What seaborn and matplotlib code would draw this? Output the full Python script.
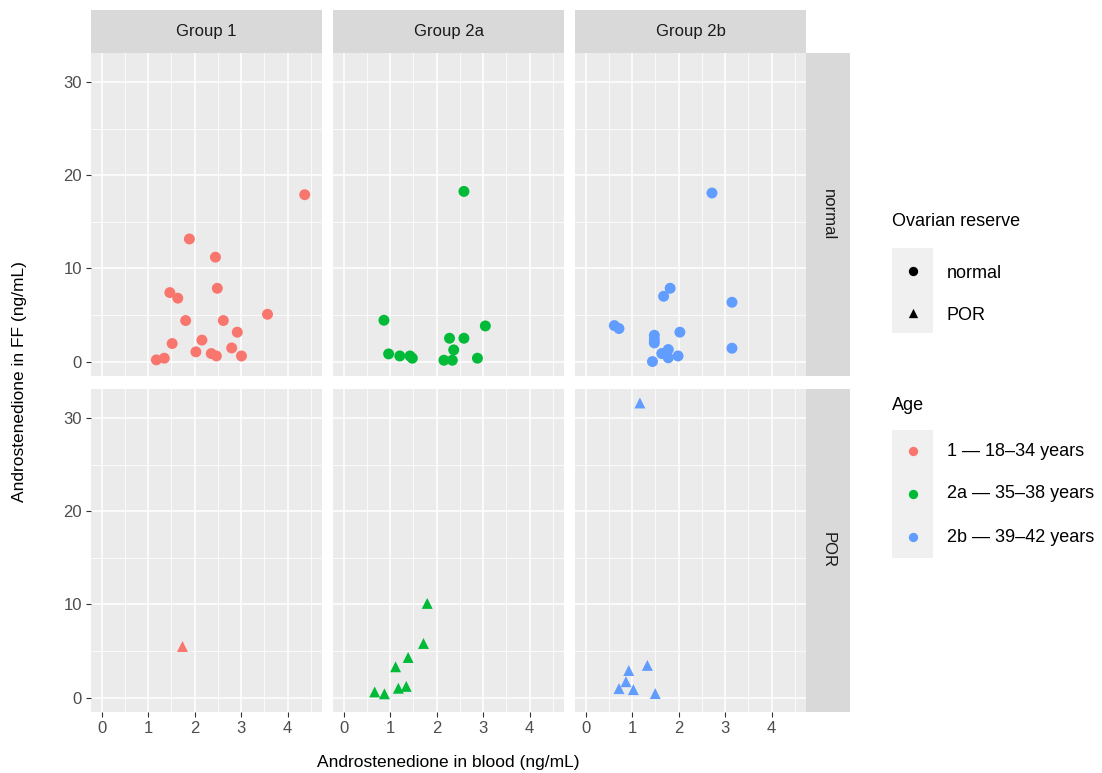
import matplotlib
matplotlib.use("Agg")
import matplotlib.pyplot as plt
from matplotlib.patches import Rectangle
from matplotlib.ticker import MultipleLocator
import numpy as np
import pandas as pd
import seaborn as sns

groups = ["Group 1", "Group 2a", "Group 2b"]
reserves = ["normal", "POR"]
age_labels = ["1 — 18–34 years", "2a — 35–38 years", "2b — 39–42 years"]
palette = ["#F8766D", "#00BA38", "#619CFF"]

# androstenedione blood (x) / follicular fluid (y), per panel
g1_normal_x = [4.37, 1.89, 2.45, 2.49, 1.47, 1.64, 3.57, 1.81, 2.62, 2.92, 2.16, 1.52, 2.80, 2.03, 2.36, 2.47, 3.01, 1.18, 1.35]
g1_normal_y = [17.9, 13.15, 11.2, 7.86, 7.4, 6.8, 5.07, 4.4, 4.4, 3.15, 2.3, 1.93, 1.46, 1.04, 0.86, 0.6, 0.6, 0.18, 0.36]
g2a_normal_x = [2.59, 0.87, 3.05, 2.28, 2.59, 2.37, 0.97, 1.21, 1.43, 1.48, 2.16, 2.34, 2.88]
g2a_normal_y = [18.25, 4.43, 3.82, 2.5, 2.5, 1.25, 0.82, 0.6, 0.6, 0.36, 0.14, 0.14, 0.36]
g2b_normal_x = [2.72, 1.82, 1.68, 3.15, 0.62, 0.72, 2.03, 1.48, 1.48, 1.48, 3.15, 1.78, 1.64, 1.99, 1.78, 1.44]
g2b_normal_y = [18.08, 7.86, 7.0, 6.36, 3.86, 3.54, 3.15, 2.82, 2.36, 2.0, 1.43, 1.29, 0.86, 0.6, 0.4, 0.0]
g1_por_x = [1.74]
g1_por_y = [5.5]
g2a_por_x = [1.80, 1.72, 1.39, 1.12, 1.35, 1.18, 0.67, 0.88]
g2a_por_y = [10.1, 5.8, 4.3, 3.3, 1.2, 1.0, 0.6, 0.4]
g2b_por_x = [1.17, 1.33, 0.93, 0.87, 0.72, 1.03, 1.50]
g2b_por_y = [31.6, 3.45, 2.9, 1.7, 0.96, 0.85, 0.43]

panels = {
    ("Group 1", "normal"): (g1_normal_x, g1_normal_y),
    ("Group 2a", "normal"): (g2a_normal_x, g2a_normal_y),
    ("Group 2b", "normal"): (g2b_normal_x, g2b_normal_y),
    ("Group 1", "POR"): (g1_por_x, g1_por_y),
    ("Group 2a", "POR"): (g2a_por_x, g2a_por_y),
    ("Group 2b", "POR"): (g2b_por_x, g2b_por_y),
}

rows = []
for (grp, res), (xs, ys) in panels.items():
    age = age_labels[groups.index(grp)]
    for x, y in zip(xs, ys):
        rows.append({"group": grp, "reserve": res, "age": age, "blood": x, "ff": y})
df = pd.DataFrame(rows)

plt.rcParams["font.family"] = ["Liberation Sans", "DejaVu Sans"]

W, H = 1102, 773
fig = plt.figure(figsize=(W / 100, H / 100), dpi=100)


def box(l, t, w, h):
    return [l / W, 1 - (t + h) / H, w / W, h / H]


col_left = [91, 333, 575]
pan_w = 231
row_top = [53, 389]
pan_h = 323
xlim = (-10.5 / 46.5, (pan_w - 10.5) / 46.5)
ylim = (-1.55, 33.1)

for r, res in enumerate(reserves):
    for c, grp in enumerate(groups):
        ax = fig.add_axes(box(col_left[c], row_top[r], pan_w, pan_h))
        ax.set_facecolor("#EBEBEB")
        sub = df[(df["group"] == grp) & (df["reserve"] == res)]
        sns.scatterplot(data=sub, x="blood", y="ff", hue="age", hue_order=age_labels,
                        palette=palette, style="reserve",
                        markers={"normal": "o", "POR": "^"},
                        s=62, linewidth=0, legend=False, ax=ax, zorder=3)
        ax.set_xlim(*xlim)
        ax.set_ylim(*ylim)
        ax.xaxis.set_major_locator(MultipleLocator(1))
        ax.xaxis.set_minor_locator(MultipleLocator(0.5))
        ax.yaxis.set_major_locator(MultipleLocator(10))
        ax.yaxis.set_minor_locator(MultipleLocator(5))
        ax.grid(which="major", color="white", linewidth=1.1)
        ax.grid(which="minor", color="white", linewidth=0.55)
        ax.set_axisbelow(True)
        for s in ax.spines.values():
            s.set_visible(False)
        ax.tick_params(which="major", length=3.5, width=0.8, color="#333333",
                       labelcolor="#4D4D4D", labelsize=12, pad=3)
        ax.tick_params(which="minor", length=0)
        ax.set_xlabel("")
        ax.set_ylabel("")
        if c != 0:
            ax.tick_params(axis="y", which="both", left=False, labelleft=False)
        if r != 1:
            ax.tick_params(axis="x", which="both", bottom=False, labelbottom=False)

# strips
for c, grp in enumerate(groups):
    sa = fig.add_axes(box(col_left[c], 10, pan_w, 43))
    sa.set_facecolor("#D9D9D9")
    sa.set_xticks([])
    sa.set_yticks([])
    for s in sa.spines.values():
        s.set_visible(False)
    sa.text(0.5, 0.5, grp, ha="center", va="center", fontsize=12, color="#1A1A1A",
            transform=sa.transAxes)

for r, res in enumerate(reserves):
    sa = fig.add_axes(box(806, row_top[r], 44, pan_h))
    sa.set_facecolor("#D9D9D9")
    sa.set_xticks([])
    sa.set_yticks([])
    for s in sa.spines.values():
        s.set_visible(False)
    sa.text(0.5, 0.5, res, ha="center", va="center", fontsize=12, color="#1A1A1A",
            rotation=270, transform=sa.transAxes)

fig.text(448 / W, 1 - 762 / H, "Androstenedione in blood (ng/mL)", ha="center", va="center",
         fontsize=12.5, color="black")
fig.text(20 / W, 1 - 382 / H, "Androstenedione in FF (ng/mL)", ha="center", va="center",
         rotation=90, fontsize=12.5, color="black")

# legends drawn in pixel coordinates
lg = fig.add_axes([0, 0, 1, 1], zorder=10)
lg.set_xlim(0, W)
lg.set_ylim(H, 0)
lg.axis("off")

lg.text(892, 222, "Ovarian reserve", ha="left", va="center", fontsize=13)
lg.add_patch(Rectangle((892, 248), 41, 85, facecolor="#F0F0F0", edgecolor="none"))
lg.scatter([913], [271], marker="o", s=45, color="black", linewidths=0)
lg.scatter([913], [313], marker="^", s=45, color="black", linewidths=0)
lg.text(947, 273, "normal", ha="left", va="center", fontsize=13)
lg.text(947, 316, "POR", ha="left", va="center", fontsize=13)

lg.text(892, 405, "Age", ha="left", va="center", fontsize=13)
lg.add_patch(Rectangle((892, 430), 41, 128, facecolor="#F0F0F0", edgecolor="none"))
for i, (lab, col) in enumerate(zip(age_labels, palette)):
    yy = 451 + i * 43
    lg.scatter([913], [yy], marker="o", s=45, color=col, linewidths=0)
    lg.text(947, yy, lab, ha="left", va="center", fontsize=13)

fig.savefig("out.png", dpi=100)
